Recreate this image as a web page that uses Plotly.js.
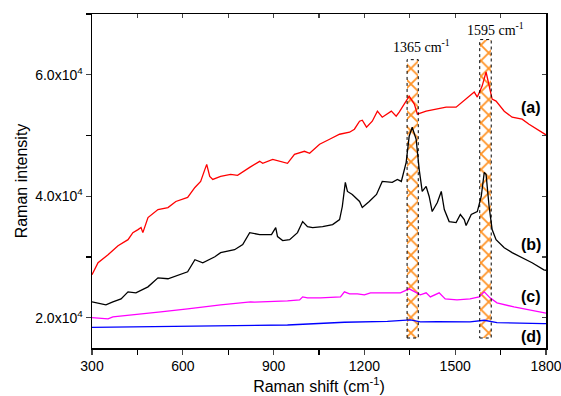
<!DOCTYPE html>
<html><head><meta charset="utf-8">
<script src="https://cdn.plot.ly/plotly-3.0.1.min.js"></script>
<style>html,body{margin:0;padding:0;background:#fff}</style>
</head><body><div id="chart" style="width:561px;height:396px"></div>
<script>
// Curve (a) red
const xA = [300,320,353,386,419,435,452,462,468,485,518,551,577,616,640,659,673,679,689,699,725,758,781,804,821,854,864,897,920,946,969,1002,1019,1052,1085,1118,1151,1167,1184,1193,1207,1226,1243,1259,1289,1305,1315,1332,1348,1365,1375,1404,1437,1470,1503,1536,1563,1573,1589,1602,1612,1622,1635,1662,1688,1721,1744,1770,1793,1800];
const yA = [27060,29040,30360,31850,32840,34000,34500,34830,34000,36480,37800,38130,39130,39790,41440,42430,44420,45240,43260,42760,43260,43590,43420,44250,44750,45740,45410,46070,45740,45410,46890,47390,47060,48550,49370,50200,50530,51030,52350,52510,51360,52350,54000,53010,54000,53180,53840,55160,56480,55160,53510,54000,54330,54660,54660,55990,57140,56320,58130,60450,57970,55990,55660,54000,53010,52680,51850,51030,50200,50100];
// Curve (b) black
const xB = [300,320,346,369,396,419,445,485,518,551,593,616,640,666,706,725,771,798,821,854,893,907,913,930,953,979,996,1012,1029,1062,1095,1118,1127,1137,1144,1160,1184,1193,1216,1240,1259,1292,1309,1322,1338,1348,1358,1371,1381,1391,1404,1414,1424,1441,1454,1464,1480,1503,1517,1530,1536,1553,1573,1586,1596,1602,1612,1622,1635,1662,1688,1721,1754,1793,1800];
const yB = [22600,22430,22100,22600,23090,24250,24080,25070,26560,26400,27060,27550,29540,29040,30030,30700,31190,32020,34000,33670,33670,34830,33340,32680,32840,34000,35820,34990,34830,34990,35320,36150,38300,42270,40780,40280,39130,38130,39130,40280,42430,42270,42760,42430,45570,49870,51360,49370,44420,40780,41600,39950,37470,38960,40780,37800,35820,35650,36980,36150,35160,36980,37470,39950,43920,43590,38300,34500,32840,31520,30700,29870,29040,27880,27800];
// Curve (c) magenta
const xC = [300,330,353,369,452,527,616,640,725,824,837,946,986,996,1012,1055,1121,1134,1151,1177,1200,1220,1276,1319,1348,1368,1385,1404,1418,1447,1467,1506,1549,1579,1596,1615,1638,1694,1727,1747,1793,1800];
const yC = [20000,19950,19790,20120,20610,20940,21440,21600,22100,22600,22550,22760,22930,23420,23260,23260,23420,24250,23920,23920,23750,24080,24080,24080,24740,24250,23750,24080,23420,24080,23090,22930,23090,23420,24250,23260,22430,21770,21440,21270,20780,20750];
// Curve (d) blue
const xD = [300,616,946,1134,1276,1352,1385,1441,1549,1596,1638,1793,1800];
const yD = [18410,18630,18790,19240,19400,19620,19290,19340,19290,19570,19170,19010,19000];

const seriesLabels = ['(a)','(b)','(c)','(d)'];
const seriesLabelY = [54650,32020,23420,16970];
const seriesLabelX = 1750;

// highlighted bands
const bandLo = [1341, 1581];
const bandHi = [1378, 1619];
const bandTop = [62480, 65790];
const bandBottom = 16645;
const bandText = ['1365 cm<sup>-1</sup>', '1595 cm<sup>-1</sup>'];
const bandTextX = [1387, 1634];
const bandTextY = [64750, 67560];

const xTickVals = [300,600,900,1200,1500,1800];
const xTickText = ['300','600','900','1200','1500','1800'];
const yTickVals = [20000,40000,60000];
const yTickText = ['2.0x10<sup>4</sup>','4.0x10<sup>4</sup>','6.0x10<sup>4</sup>'];

const xRange = [300, 1800];
const yRange = [15000, 70000];

const traces = [];
for (let i = 0; i < bandLo.length; i++) {
  traces.push({
    type: 'bar', x: [(bandLo[i] + bandHi[i]) / 2], y: [bandTop[i] - bandBottom], base: [bandBottom],
    width: [bandHi[i] - bandLo[i]], xaxis: 'x', yaxis: 'y',
    marker: {color: 'white', line: {width: 0},
      pattern: {shape: 'x', fgcolor: '#FF9326', bgcolor: 'white', size: 11, solidity: 0.3}},
    hoverinfo: 'skip', showlegend: false
  });
}
const lineDefs = [[xA,yA,'#FF0000'],[xB,yB,'#000000'],[xC,yC,'#FF00FF'],[xD,yD,'#0000FF']];
lineDefs.forEach(d => traces.push({type:'scatter', mode:'lines', x:d[0], y:d[1], xaxis:'x2', yaxis:'y2',
  line:{color:d[2], width:1.3}, showlegend:false}));

const shapes = bandLo.map((lo, i) => ({type:'rect', xref:'x', yref:'y', x0: lo, x1: bandHi[i], y0: bandBottom, y1: bandTop[i],
  line:{color:'#000', width:1, dash:'dot'}, fillcolor:'rgba(0,0,0,0)'}));

const annotations = [];
seriesLabels.forEach((t, i) => annotations.push({xref:'x', yref:'y', x: seriesLabelX, y: seriesLabelY[i], text: '<b>' + t + '</b>',
  showarrow:false, font:{family:'Liberation Sans, Arial, sans-serif', size:16, color:'#000'}}));
bandText.forEach((t, i) => annotations.push({xref:'x', yref:'y', x: bandTextX[i], y: bandTextY[i], text: t,
  showarrow:false, font:{family:'Liberation Serif, Times New Roman, serif', size:14, color:'#000'}}));

const axFont = {family:'Liberation Sans, Arial, sans-serif', size:14, color:'#000'};
const layout = {
  width:561, height:396, margin:{l:92, r:15, t:14, b:48},
  paper_bgcolor:'#fff', plot_bgcolor:'#fff', showlegend:false, bargap:0,
  font: axFont,
  xaxis:{range:xRange, tickmode:'array', tickvals:xTickVals, ticktext:xTickText, ticks:'outside', ticklen:5, tickwidth:1.2,
    minor:{dtick:150, tick0:300, ticks:'outside', ticklen:5, tickwidth:1.2, tickcolor:'#000', showgrid:false},
    ticklabeloverflow:'allow',
    showline:true, linecolor:'#000', linewidth:1.5, showgrid:false, zeroline:false, tickfont:axFont,
    title:{text:'Raman shift (cm<sup>-1</sup>)', font:{family:'Liberation Sans, Arial, sans-serif', size:16, color:'#000'}, standoff:7}},
  yaxis:{range:yRange, tickmode:'array', tickvals:yTickVals, ticktext:yTickText, ticks:'outside', ticklen:5, tickwidth:1.2,
    minor:{dtick:10000, tick0:0, ticks:'outside', ticklen:5, tickwidth:1.2, tickcolor:'#000', showgrid:false},
    showline:true, linecolor:'#000', linewidth:1.5, showgrid:false, zeroline:false, tickfont:axFont,
    title:{text:'Raman intensity', font:{family:'Liberation Sans, Arial, sans-serif', size:16, color:'#000'}, standoff:3}},
  xaxis2:{range:xRange, overlaying:'x', side:'top', dtick:150, tick0:300, ticks:'inside', ticklen:4, tickwidth:1.2,
    showticklabels:false, showline:true, linecolor:'#000', linewidth:1.5, showgrid:false, zeroline:false},
  yaxis2:{range:yRange, overlaying:'y', side:'right', dtick:10000, tick0:0, ticks:'inside', ticklen:4, tickwidth:1.2,
    showticklabels:false, showline:true, linecolor:'#000', linewidth:1.5, showgrid:false, zeroline:false},
  shapes: shapes, annotations: annotations
};
Plotly.newPlot('chart', traces, layout, {displayModeBar:false, staticPlot:true});
</script>
</body></html>
